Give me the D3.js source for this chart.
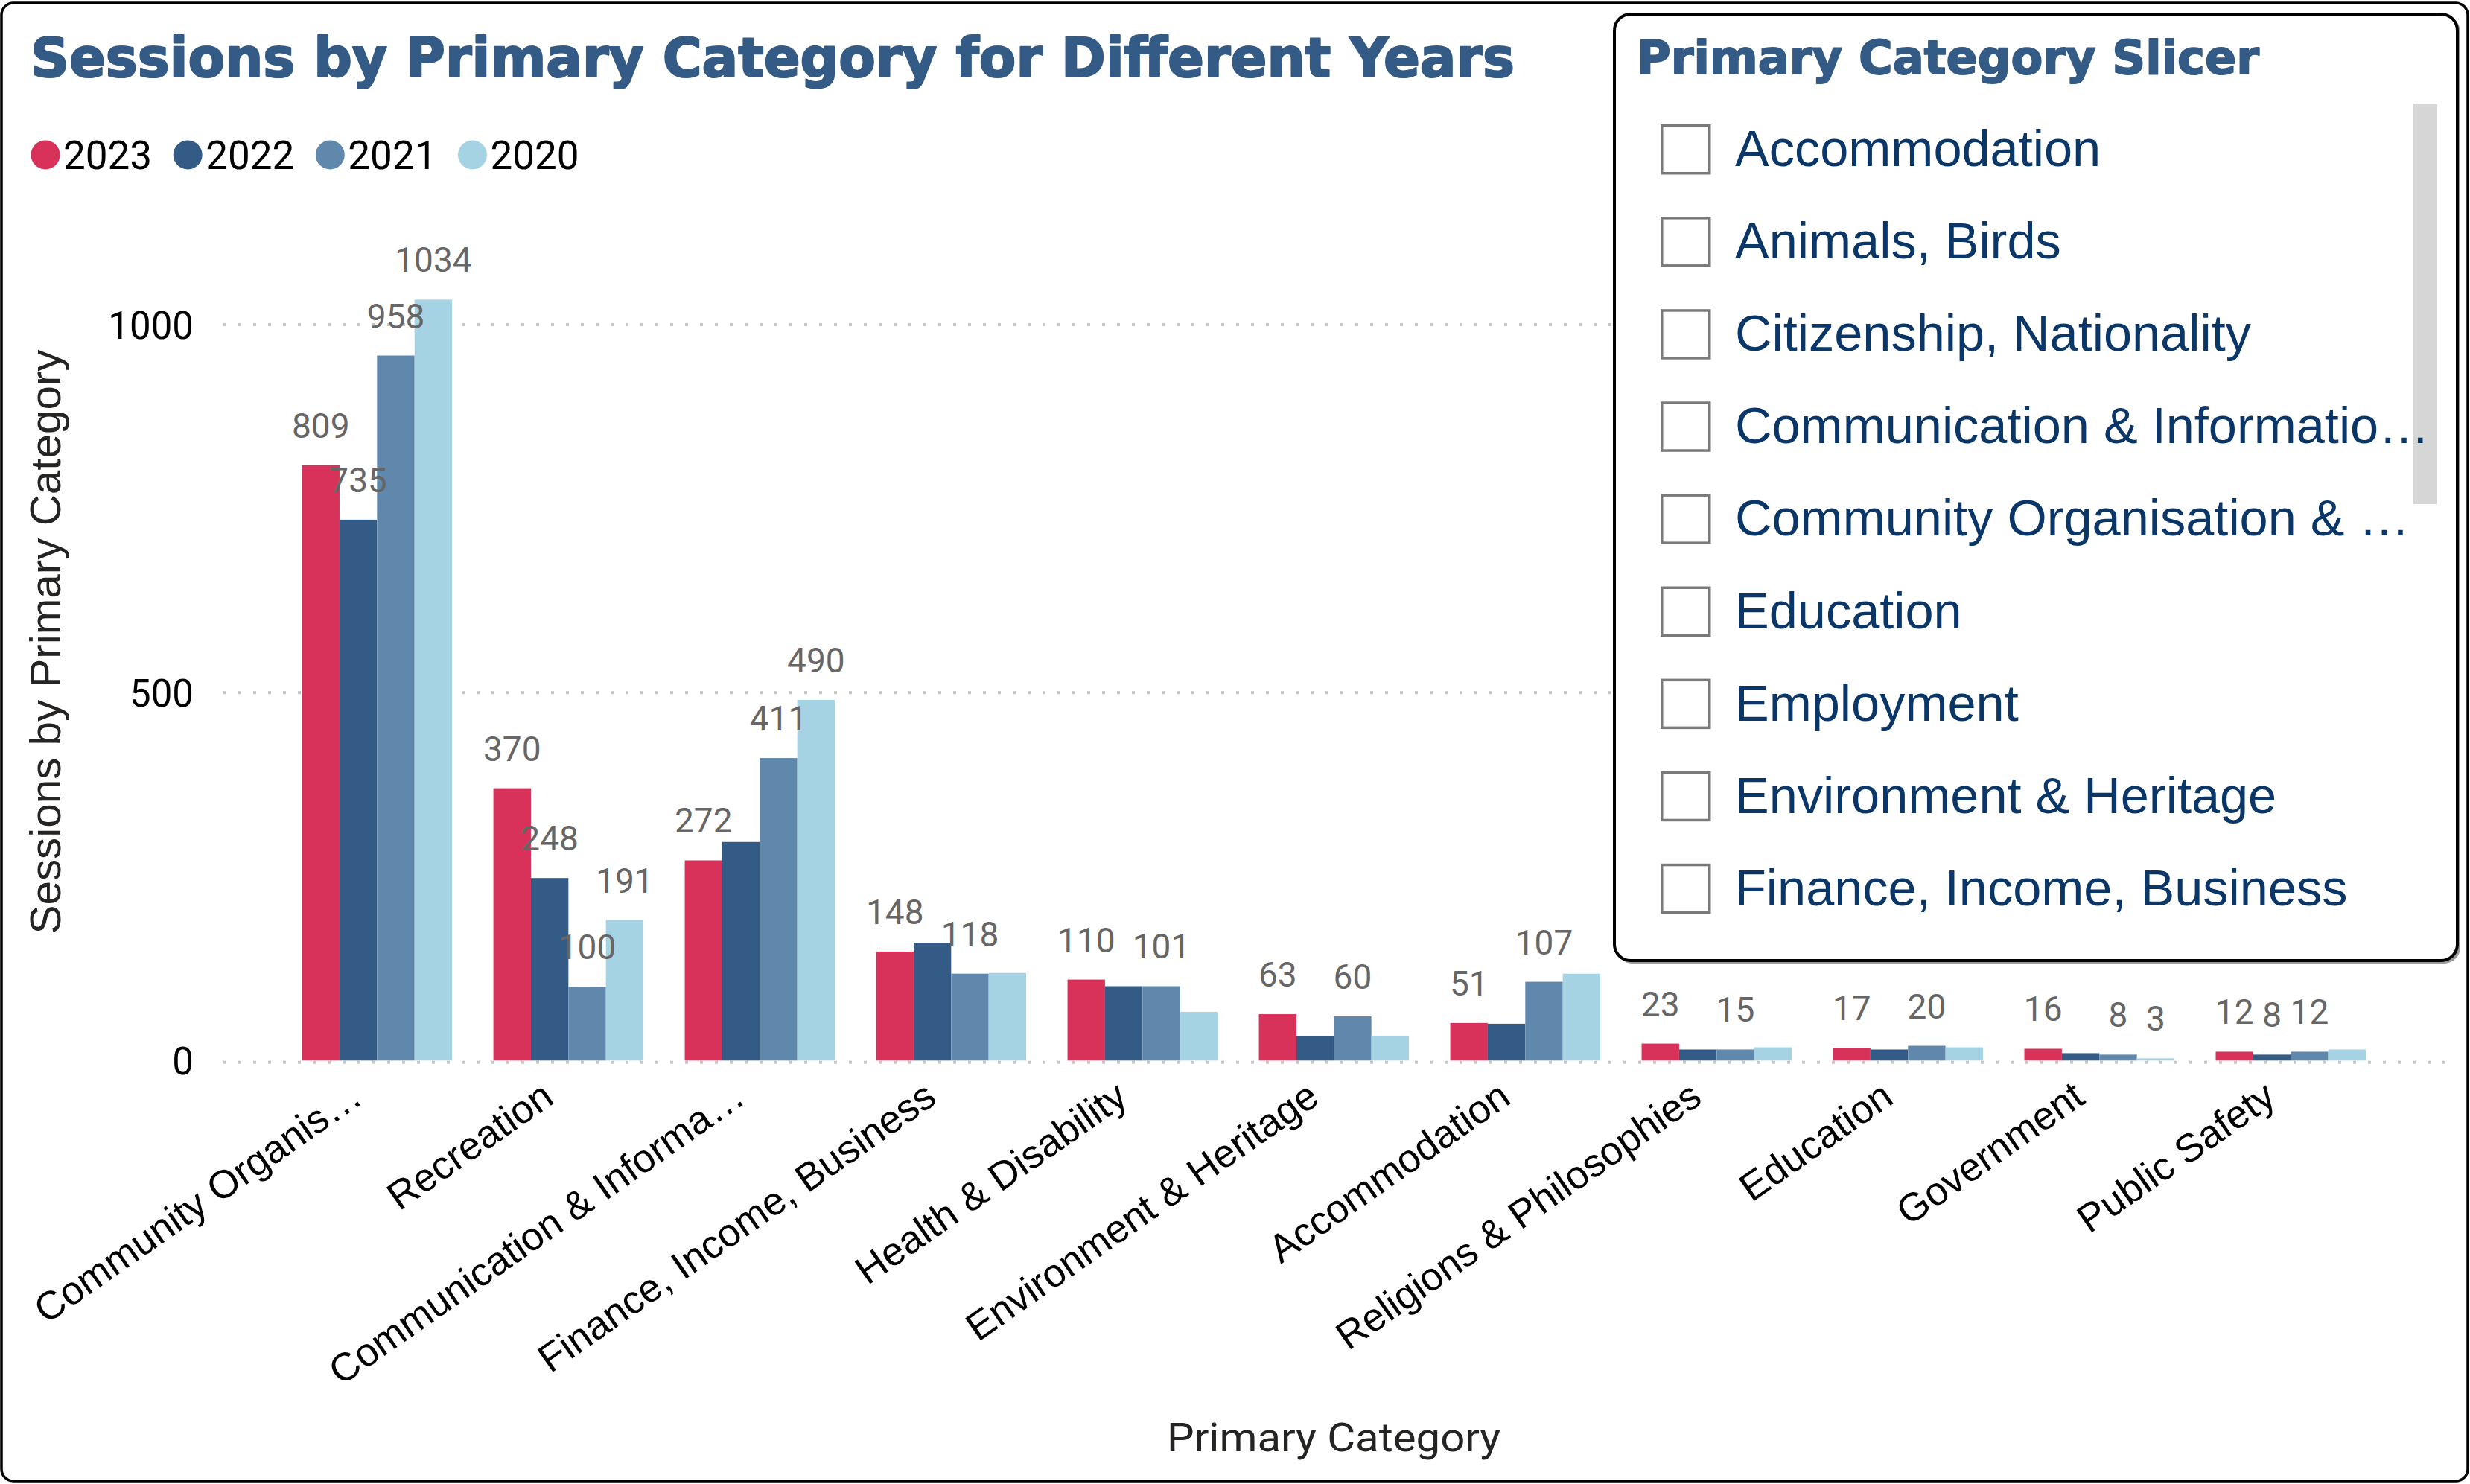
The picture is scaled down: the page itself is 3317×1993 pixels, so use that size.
<!DOCTYPE html>
<html>
<head>
<meta charset="utf-8">
<script src="https://cdn.jsdelivr.net/npm/d3@7"></script>
<style>
  html, body { margin: 0; padding: 0; background: #ffffff; }
  svg { display: block; }
</style>
</head>
<body>
<svg id="chart" width="3317" height="1993"></svg>
<script>
// ---------------- DATA ----------------
const categories = [
  "Community Organis…", "Recreation", "Communication & Informa…",
  "Finance, Income, Business", "Health & Disability", "Environment & Heritage",
  "Accommodation", "Religions & Philosophies", "Education", "Government", "Public Safety"
];
const years = ["2023", "2022", "2021", "2020"];
const v2023 = [809, 370, 272, 148, 110, 63, 51, 23, 17, 16, 12];
const v2022 = [735, 248, 297, 160, 101, 33, 50, 15, 15, 10, 8];
const v2021 = [958, 100, 411, 118, 101, 60, 107, 15, 20, 8, 12];
const v2020 = [1034, 191, 490, 119, 66, 33, 118, 18, 18, 3, 15];
// which series' data labels are visible per category (0=2023 … 3=2020)
const shownLabels = [
  [0, 1, 2, 3], [0, 1, 2, 3], [0, 2, 3], [0, 2], [0, 2], [0, 2],
  [0, 2], [0, 2], [0, 2], [0, 2, 3], [0, 1, 2]
];
const yTicks = [0, 500, 1000];
const slicerItems = [
  "Accommodation", "Animals, Birds", "Citizenship, Nationality",
  "Communication & Informatio…", "Community Organisation & …", "Education",
  "Employment", "Environment & Heritage", "Finance, Income, Business"
];

// ---------------- STYLE ----------------
const colors = ["#D9325A", "#335B85", "#6088AC", "#A6D3E3"];
const titleBlue = "#335B85";
const seriesValues = [v2023, v2022, v2021, v2020];

const svg = d3.select("#chart");

// outer frame
svg.append("rect")
  .attr("x", 2).attr("y", 4).attr("width", 3312).attr("height", 1985)
  .attr("rx", 16).attr("fill", "#fff").attr("stroke", "#000").attr("stroke-width", 3.5);

// title
svg.append("text")
  .attr("x", 41).attr("y", 103)
  .attr("font-family", "'DejaVu Sans', sans-serif").attr("font-weight", 700)
  .attr("font-size", 73).attr("fill", titleBlue)
  .attr("stroke", titleBlue).attr("stroke-width", 2.2).attr("stroke-linejoin", "round")
  .attr("textLength", 1993).attr("lengthAdjust", "spacingAndGlyphs")
  .text("Sessions by Primary Category for Different Years");

// legend
let lx = 61;
years.forEach((yr, i) => {
  svg.append("circle").attr("cx", lx).attr("cy", 208).attr("r", 19.5).attr("fill", colors[i]);
  const t = svg.append("text")
    .attr("x", lx + 24).attr("y", 208).attr("dy", "0.36em")
    .attr("font-family", "Roboto, sans-serif").attr("font-size", 53).attr("fill", "#000")
    .text(yr);
  lx = lx + 24 + t.node().getComputedTextLength() + 48;
});

// scales
const x0 = d3.scaleBand().domain(categories).range([405.6, 3177]).paddingInner(0.216).paddingOuter(0);
const x1 = d3.scaleBand().domain(years).range([0, x0.bandwidth()]).padding(0);
const y = d3.scaleLinear().domain([0, 1000]).range([1424.3, 436]);

// gridlines
const grid = svg.append("g");
yTicks.forEach(t => {
  const yy = t === 0 ? y(t) + 2.4 : y(t);
  grid.append("line")
    .attr("x1", 300).attr("x2", 3296).attr("y1", yy).attr("y2", yy)
    .attr("stroke", "#C8C6C4").attr("stroke-width", 4).attr("stroke-dasharray", "4 16");
});

// y axis tick labels
const yAxis = d3.axisLeft(y).tickValues(yTicks).tickSize(0).tickPadding(0).tickFormat(d3.format("d"));
const yg = svg.append("g").attr("transform", "translate(260,0)").call(yAxis);
yg.select(".domain").remove();
yg.selectAll("text")
  .attr("font-family", "Roboto, sans-serif").attr("font-size", 51).attr("fill", "#000")
  .attr("dy", "0.36em").attr("x", 0);

// bars
const groups = svg.append("g").selectAll("g").data(categories).join("g")
  .attr("transform", d => `translate(${x0(d)},0)`);
groups.each(function(cat, ci) {
  const g = d3.select(this);
  years.forEach((yr, si) => {
    const v = seriesValues[si][ci];
    g.append("rect")
      .attr("x", x1(yr)).attr("width", x1.bandwidth())
      .attr("y", y(v)).attr("height", y(0) - y(v))
      .attr("fill", colors[si]);
  });
});
// data labels
groups.each(function(cat, ci) {
  const g = d3.select(this);
  shownLabels[ci].forEach(si => {
    const v = seriesValues[si][ci];
    g.append("text")
      .attr("x", x1(years[si]) + x1.bandwidth() / 2)
      .attr("y", y(v) - 37)
      .attr("text-anchor", "middle")
      .attr("font-family", "Roboto, sans-serif").attr("font-size", 46).attr("fill", "#666666")
      .text(v);
  });
});

// x axis labels
const xg = svg.append("g");
categories.forEach(cat => {
  const cx = x0(cat) + x0.bandwidth() / 2;
  xg.append("text")
    .attr("transform", `translate(${cx - 17},1480) rotate(-35)`)
    .attr("text-anchor", "end")
    .attr("font-family", "'Liberation Sans', Arial, sans-serif").attr("font-size", 53).attr("fill", "#000")
    .text(cat);
});

// axis titles
svg.append("text")
  .attr("x", 1791).attr("y", 1949).attr("text-anchor", "middle")
  .attr("font-family", "Roboto, sans-serif").attr("font-size", 53).attr("fill", "#252423")
  .attr("textLength", 448).attr("lengthAdjust", "spacingAndGlyphs")
  .text("Primary Category");
svg.append("text")
  .attr("transform", "translate(81,862) rotate(-90)")
  .attr("text-anchor", "middle")
  .attr("font-family", "'Liberation Sans', Arial, sans-serif").attr("font-size", 57).attr("fill", "#252423")
  .attr("textLength", 785).attr("lengthAdjust", "spacingAndGlyphs")
  .text("Sessions by Primary Category");

// ---------------- SLICER ----------------
const sl = svg.append("g");
sl.append("rect")
  .attr("x", 2170).attr("y", 21).attr("width", 1134).attr("height", 1273)
  .attr("rx", 22).attr("fill", "#9a9a9a");
sl.append("rect")
  .attr("x", 2168).attr("y", 19).attr("width", 1132).attr("height", 1271)
  .attr("rx", 22).attr("fill", "#fff").attr("stroke", "#000").attr("stroke-width", 4);
sl.append("text")
  .attr("x", 2198).attr("y", 99)
  .attr("font-family", "'DejaVu Sans', sans-serif").attr("font-weight", 700)
  .attr("font-size", 62).attr("fill", titleBlue)
  .attr("stroke", titleBlue).attr("stroke-width", 1.8).attr("stroke-linejoin", "round")
  .attr("textLength", 836).attr("lengthAdjust", "spacingAndGlyphs")
  .text("Primary Category Slicer");
sl.append("rect")
  .attr("x", 3241).attr("y", 140).attr("width", 32).attr("height", 537)
  .attr("fill", "#D6D6D6");
slicerItems.forEach((item, i) => {
  const top = 167 + 124.1 * i;
  sl.append("rect")
    .attr("x", 2231.75).attr("y", top + 1.75).attr("width", 64).attr("height", 64)
    .attr("fill", "none").attr("stroke", "#7A7A7A").attr("stroke-width", 3.5);
  sl.append("text")
    .attr("x", 2330).attr("y", top + 56)
    .attr("font-family", "'Liberation Sans', Arial, sans-serif").attr("font-size", 68.5)
    .attr("fill", "#0B3668")
    .text(item);
});
</script>
</body>
</html>
